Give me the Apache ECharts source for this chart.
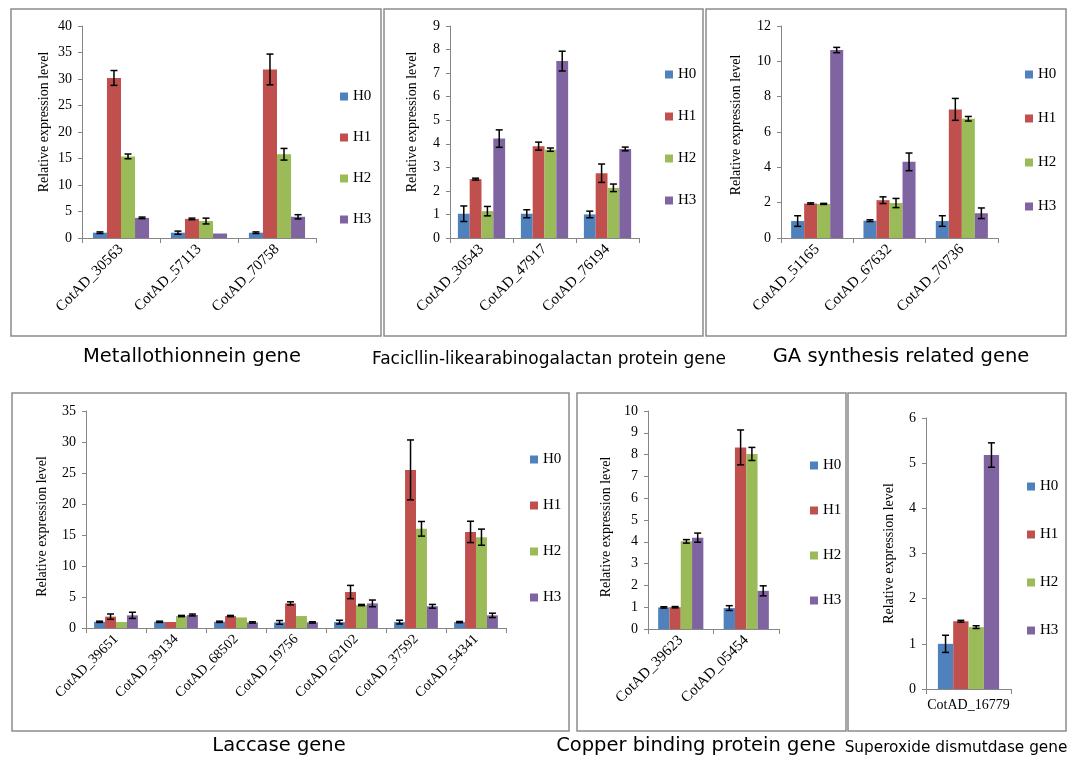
<!DOCTYPE html>
<html>
<head>
<meta charset="utf-8">
<title>Relative expression level</title>
<script src="https://cdn.jsdelivr.net/npm/echarts@6/dist/echarts.min.js"></script>
<style>
  html, body { margin: 0; padding: 0; background: #fff; }
  #chart { width: 1069px; height: 758px; }
</style>
</head>
<body>
<div id="chart"></div>
<script>
// series order: H0, H1, H2, H3 (one row each)
const seriesNames = ["H0", "H1", "H2", "H3"];

// Metallothionnein gene
const metalCats = ["CotAD_30563", "CotAD_57113", "CotAD_70758"];
const metalVals = [[1.0, 1.0, 1.0], [30.2, 3.6, 31.8], [15.4, 3.2, 15.8], [3.8, 0.85, 4.0]];
const metalErrs = [[0.15, 0.3, 0.15], [1.4, 0.15, 2.9], [0.45, 0.55, 1.1], [0.15, 0, 0.4]];

// Facicllin-like arabinogalactan protein gene
const fasCats = ["CotAD_30543", "CotAD_47917", "CotAD_76194"];
const fasVals = [[1.03, 1.03, 1.0], [2.5, 3.9, 2.75], [1.14, 3.75, 2.13], [4.22, 7.51, 3.78]];
const fasErrs = [[0.33, 0.17, 0.14], [0.04, 0.17, 0.39], [0.2, 0.07, 0.16], [0.37, 0.42, 0.08]];

// GA synthesis related gene
const gaCats = ["CotAD_51165", "CotAD_67632", "CotAD_70736"];
const gaVals = [[0.96, 0.98, 0.96], [1.95, 2.14, 7.28], [1.93, 1.98, 6.75], [10.64, 4.31, 1.4]];
const gaErrs = [[0.3, 0.05, 0.3], [0.04, 0.19, 0.62], [0.03, 0.26, 0.13], [0.15, 0.5, 0.3]];

// Laccase gene
const lacCats = ["CotAD_39651", "CotAD_39134", "CotAD_68502", "CotAD_19756", "CotAD_62102", "CotAD_37592", "CotAD_54341"];
const lacVals = [
  [1.0, 1.0, 1.0, 0.9, 0.95, 0.95, 0.95],
  [1.83, 0.97, 1.93, 3.97, 5.8, 25.5, 15.5],
  [0.97, 1.93, 1.7, 1.93, 3.7, 16.0, 14.65],
  [2.04, 2.1, 0.9, 0.9, 3.97, 3.5, 2.04]
];
const lacErrs = [
  [0.1, 0.1, 0.1, 0.3, 0.3, 0.3, 0.1],
  [0.43, 0, 0.1, 0.25, 1.07, 4.83, 1.72],
  [0, 0.1, 0, 0, 0.1, 1.18, 1.3],
  [0.5, 0.15, 0.1, 0.1, 0.54, 0.3, 0.35]
];

// Copper binding protein gene
const cuCats = ["CotAD_39623", "CotAD_05454"];
const cuVals = [[0.99, 0.96], [1.0, 8.33], [4.02, 8.03], [4.19, 1.75]];
const cuErrs = [[0.03, 0.11], [0.03, 0.8], [0.08, 0.3], [0.21, 0.23]];

// Superoxide dismutdase gene
const sodCats = ["CotAD_16779"];
const sodVals = [[1.0], [1.5], [1.37], [5.18]];
const sodErrs = [[0.19], [0.02], [0.03], [0.27]];

const colors = ["#4F81BD", "#C0504D", "#9BBB59", "#8064A2"];
const serif = "'Liberation Serif', 'Times New Roman', serif";
const sans = "'DejaVu Sans', Verdana, sans-serif";

// nameShift: move the axis title up (-) or down (+) from the axis middle
const panels = [
  { cats: metalCats, vals: metalVals, errs: metalErrs, max: 40, step: 5, rotate: 45, xFont: 15,
    grid: { left: 82, top: 26, width: 234, height: 212 }, gap: 0.28, nameGap: 31, nameShift: -10,
    legend: { left: 335, top: 84, gap: 26 },
    frame: [11, 9, 370, 327], title: { text: "Metallothionnein gene", x: 192, y: 357, size: 19.5 } },
  { cats: fasCats, vals: fasVals, errs: fasErrs, max: 9, step: 1, rotate: 45, xFont: 15,
    grid: { left: 450, top: 26, width: 189, height: 212 }, gap: 0.25, nameGap: 31, nameShift: -10,
    legend: { left: 660, top: 62, gap: 27 },
    frame: [384, 9, 319, 327], title: { text: "Facicllin-likearabinogalactan protein gene", x: 549, y: 360, size: 17 } },
  { cats: gaCats, vals: gaVals, errs: gaErrs, max: 12, step: 2, rotate: 45, xFont: 15,
    grid: { left: 781, top: 26, width: 217, height: 212 }, gap: 0.28, nameGap: 38, nameShift: -7,
    legend: { left: 1020, top: 62, gap: 29 },
    frame: [706, 9, 360, 327], title: { text: "GA synthesis related gene", x: 901, y: 357, size: 19.5 } },
  { cats: lacCats, vals: lacVals, errs: lacErrs, max: 35, step: 5, rotate: 45, xFont: 14,
    grid: { left: 86, top: 411, width: 420, height: 217 }, gap: 0.27, nameGap: 37, nameShift: 7,
    legend: { left: 525, top: 447, gap: 31 },
    frame: [12, 393, 557, 338], title: { text: "Laccase gene", x: 279, y: 746, size: 19.5 } },
  { cats: cuCats, vals: cuVals, errs: cuErrs, max: 10, step: 1, rotate: 45, xFont: 15,
    grid: { left: 648, top: 411, width: 131, height: 218 }, gap: 0.31, nameGap: 35, nameShift: 7,
    legend: { left: 805, top: 453, gap: 30 },
    frame: [577, 393, 269, 338], title: { text: "Copper binding protein gene", x: 696, y: 746, size: 19.5 } },
  { cats: sodCats, vals: sodVals, errs: sodErrs, max: 6, step: 1, rotate: 0, xFont: 14,
    grid: { left: 926, top: 418, width: 85, height: 271 }, gap: 0.28, nameGap: 30, nameShift: 0,
    legend: { left: 1022, top: 474, gap: 33 },
    frame: [848, 393, 218, 338], title: { text: "Superoxide dismutdase gene", x: 956, y: 748, size: 15.3 } }
];

const grids = [], xAxes = [], yAxes = [], series = [], legends = [], graphics = [];

panels.forEach((p, pi) => {
  grids.push(Object.assign({ containLabel: false }, p.grid));

  xAxes.push({
    type: "category",
    gridIndex: pi,
    data: p.cats,
    axisLine: { lineStyle: { color: "#868686" } },
    axisTick: { show: true, length: 5, lineStyle: { color: "#868686" } },
    axisLabel: { interval: 0, rotate: p.rotate, margin: 9, color: "#000", fontFamily: serif, fontSize: p.xFont }
  });

  // the name is rotated, so left/right padding moves it up/down on screen
  const s = p.nameShift;
  const namePad = s < 0 ? [0, 0, 0, -2 * s] : [0, 2 * s, 0, 0];

  yAxes.push({
    type: "value",
    gridIndex: pi,
    min: 0,
    max: p.max,
    interval: p.step,
    name: "Relative expression level",
    nameLocation: "middle",
    nameGap: p.nameGap,
    nameTextStyle: { color: "#000", fontFamily: serif, fontSize: 14, padding: namePad },
    splitLine: { show: false },
    axisLine: { show: true, lineStyle: { color: "#868686" } },
    axisTick: { show: true, length: 4, lineStyle: { color: "#868686" } },
    axisLabel: { margin: 10, color: "#000", fontFamily: serif, fontSize: 14 }
  });

  legends.push({
    data: seriesNames,
    orient: "vertical",
    left: p.legend.left,
    top: p.legend.top,
    itemGap: p.legend.gap,
    itemWidth: 8,
    itemHeight: 8,
    icon: "rect",
    selectedMode: false,
    textStyle: { color: "#000", fontFamily: serif, fontSize: 15 }
  });

  // bars
  seriesNames.forEach((name, h) => {
    series.push({
      name: name,
      type: "bar",
      xAxisIndex: pi,
      yAxisIndex: pi,
      data: p.vals[h],
      barGap: "0%",
      barCategoryGap: Math.round(p.gap * 100) + "%",
      itemStyle: { color: colors[h] },
      silent: true
    });
  });

  // error bars, drawn on top of the bars
  seriesNames.forEach((name, h) => {
    const errData = [];
    p.vals[h].forEach((v, i) => {
      const e = p.errs[h][i];
      if (e > 0) errData.push([i, v - e, v + e]);
    });
    series.push({
      name: name,
      type: "custom",
      xAxisIndex: pi,
      yAxisIndex: pi,
      data: errData,
      encode: { x: 0, y: [1, 2] },
      z: 10,
      silent: true,
      renderItem: function (params, api) {
        const cat = api.value(0);
        const lo = api.coord([cat, api.value(1)]);
        const hi = api.coord([cat, api.value(2)]);
        const band = api.size([1, 0])[0];
        const groupW = band * (1 - p.gap);
        const barW = groupW / 4;
        const x = lo[0] - groupW / 2 + barW * (h + 0.5);
        const cap = 3.5;
        const style = { stroke: "#000", lineWidth: 1.5 };
        return {
          type: "group",
          children: [
            { type: "line", shape: { x1: x, y1: lo[1], x2: x, y2: hi[1] }, style: style },
            { type: "line", shape: { x1: x - cap, y1: hi[1], x2: x + cap, y2: hi[1] }, style: style },
            { type: "line", shape: { x1: x - cap, y1: lo[1], x2: x + cap, y2: lo[1] }, style: style }
          ]
        };
      }
    });
  });

  // panel frame and caption
  graphics.push({
    type: "rect",
    silent: true,
    shape: { x: p.frame[0], y: p.frame[1], width: p.frame[2], height: p.frame[3] },
    style: { fill: "none", stroke: "#8c8c8c", lineWidth: 1.5 }
  });
  graphics.push({
    type: "text",
    silent: true,
    x: p.title.x,
    y: p.title.y,
    style: {
      text: p.title.text,
      fill: "#000",
      font: p.title.size + "px " + sans,
      align: "center",
      verticalAlign: "middle"
    }
  });
});

const chart = echarts.init(document.getElementById("chart"));
chart.setOption({
  animation: false,
  backgroundColor: "#fff",
  grid: grids,
  xAxis: xAxes,
  yAxis: yAxes,
  legend: legends,
  series: series,
  graphic: graphics
});
</script>
</body>
</html>
